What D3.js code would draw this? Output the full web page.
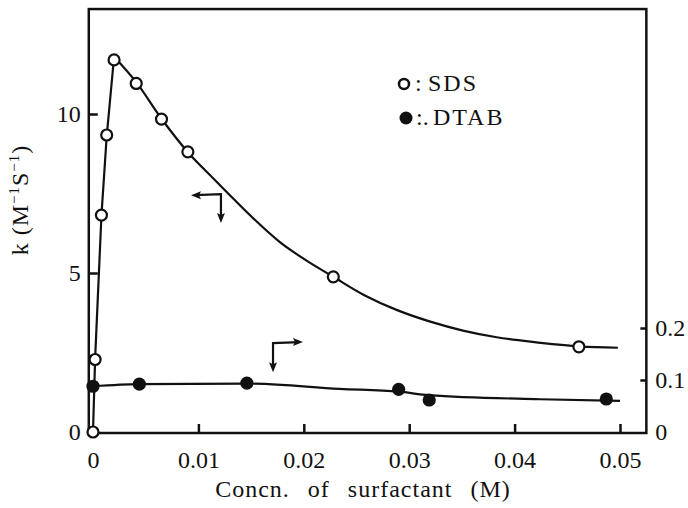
<!DOCTYPE html>
<html lang="en">
<head>
<meta charset="UTF-8">
<title>k vs surfactant concentration</title>
<script src="https://d3js.org/d3.v7.min.js"></script>
<style>
  body { margin: 0; background: #fff; }
  svg { display: block; }
  text { font-family: "Liberation Serif", "Times New Roman", serif; fill: #111; }
  .tick text { font-size: 24px; }
  .tick line { stroke: #111; stroke-width: 2.5; }
</style>
</head>
<body>
<svg width="688" height="508"></svg>
<script>
// SDS measured points (left axis, k in M^-1 s^-1)
var sdsConc = [0, 0.0002, 0.0008, 0.0013, 0.002, 0.0041, 0.0065, 0.009, 0.0228, 0.0461];
var sdsK    = [0, 2.28, 6.82, 9.34, 11.7, 10.96, 9.84, 8.81, 4.88, 2.68];
// DTAB measured points (right axis)
var dtabConc = [0, 0.0044, 0.0146, 0.029, 0.0319, 0.0487];
var dtabK    = [0.088, 0.092, 0.094, 0.082, 0.0615, 0.0635];
// drawn curves
var sdsCurveConc = [0, 0.0002, 0.0008, 0.0013, 0.002, 0.0041, 0.0065, 0.009, 0.0114, 0.0133, 0.0152, 0.0177, 0.0203, 0.0228, 0.0257, 0.0288, 0.032, 0.0351, 0.0383, 0.0415, 0.0461, 0.0498];
var sdsCurveK    = [0, 2.3, 6.8, 9.3, 11.8, 11.0, 9.85, 8.8, 7.98, 7.34, 6.72, 5.98, 5.38, 4.88, 4.31, 3.84, 3.47, 3.19, 2.98, 2.84, 2.69, 2.65];
var dtabCurveConc = [0, 0.0044, 0.0146, 0.0234, 0.029, 0.0319, 0.0424, 0.050];
var dtabCurveK    = [0.088, 0.092, 0.093, 0.083, 0.0775, 0.071, 0.063, 0.060];
// ticks
var xTicks = [0, 0.01, 0.02, 0.03, 0.04, 0.05];
var leftTicks = [0, 5, 10];
var rightTicks = [0, 0.1, 0.2];

var svg = d3.select("svg");

var x = d3.scaleLinear().domain([0, 0.05]).range([93, 620]);
var yL = d3.scaleLinear().domain([0, 10]).range([432, 114]);
var yR = d3.scaleLinear().domain([0, 0.2]).range([432, 328]);

var fx0 = x(-0.0004), fx1 = x(0.0525), fy0 = yL(13.3), fy1 = 433;

// frame
svg.append("rect")
    .attr("x", fx0).attr("y", fy0)
    .attr("width", fx1 - fx0).attr("height", fy1 - fy0)
    .attr("fill", "none").attr("stroke", "#111").attr("stroke-width", 2.5);

// axes, ticks pointing inward
var gx = svg.append("g")
    .attr("transform", "translate(0," + fy1 + ")")
    .call(d3.axisBottom(x).tickValues(xTicks).tickSizeInner(-9).tickSizeOuter(0)
        .tickPadding(18).tickFormat(function(d) { return String(d); }));
gx.select(".domain").remove();
gx.selectAll(".tick").filter(function(d) { return d === 0; }).select("line").remove();

var gl = svg.append("g")
    .attr("transform", "translate(" + fx0 + ",0)")
    .call(d3.axisLeft(yL).tickValues(leftTicks).tickSizeInner(-9).tickSizeOuter(0)
        .tickPadding(8));
gl.select(".domain").remove();
gl.selectAll(".tick").filter(function(d) { return d === 0; }).select("line").remove();

var gr = svg.append("g")
    .attr("transform", "translate(" + fx1 + ",0)")
    .call(d3.axisRight(yR).tickValues(rightTicks).tickSizeInner(-6).tickSizeOuter(0)
        .tickPadding(9).tickFormat(function(d) { return String(d); }));
gr.select(".domain").remove();
gr.selectAll(".tick").filter(function(d) { return d === 0; }).select("line").remove();

// axis titles
svg.append("text")
    .attr("x", 363).attr("y", 497)
    .attr("text-anchor", "middle")
    .attr("font-size", 24)
    .style("letter-spacing", "1px")
    .style("word-spacing", "11px")
    .text("Concn. of surfactant (M)");

var yt = svg.append("text")
    .attr("transform", "translate(28,200) rotate(-90)")
    .attr("text-anchor", "middle")
    .attr("font-size", 24)
    .style("letter-spacing", "1px");
yt.append("tspan").text("k (M");
yt.append("tspan").attr("font-size", 15).attr("dy", -9).text("\u22121");
yt.append("tspan").attr("dy", 9).text("S");
yt.append("tspan").attr("font-size", 15).attr("dy", -9).text("\u22121");
yt.append("tspan").attr("dy", 9).text(")");

// curves
var sdsCurve = sdsCurveConc.map(function(c, i) { return [c, sdsCurveK[i]]; });
var dtabCurve = dtabCurveConc.map(function(c, i) { return [c, dtabCurveK[i]]; });

var lineL = d3.line().x(function(d) { return x(d[0]); }).y(function(d) { return yL(d[1]); });
var lineR = d3.line().x(function(d) { return x(d[0]); }).y(function(d) { return yR(d[1]); })
    .curve(d3.curveMonotoneX);

var peak = 4;
svg.append("path")
    .attr("d", lineL.curve(d3.curveLinear)(sdsCurve.slice(0, peak + 1)))
    .attr("fill", "none").attr("stroke", "#111").attr("stroke-width", 2.2);
svg.append("path")
    .attr("d", lineL.curve(d3.curveCatmullRom.alpha(0.5))(sdsCurve.slice(peak)))
    .attr("fill", "none").attr("stroke", "#111").attr("stroke-width", 2.2);
svg.append("path")
    .attr("d", lineR(dtabCurve))
    .attr("fill", "none").attr("stroke", "#111").attr("stroke-width", 2.2);

// points
svg.selectAll(".sds").data(sdsConc).enter().append("circle")
    .attr("class", "sds")
    .attr("cx", function(d) { return x(d); })
    .attr("cy", function(d, i) { return yL(sdsK[i]); })
    .attr("r", 5.5)
    .attr("fill", "#fff").attr("stroke", "#111").attr("stroke-width", 2.2);

svg.selectAll(".dtab").data(dtabConc).enter().append("circle")
    .attr("class", "dtab")
    .attr("cx", function(d) { return x(d); })
    .attr("cy", function(d, i) { return yR(dtabK[i]); })
    .attr("r", 6.6)
    .attr("fill", "#111");

// arrows showing which axis each curve uses
function arrowHead(tx, ty, dx, dy) {
    var len = 10, w = 4;
    var bx = tx - dx * len, by = ty - dy * len;
    return "M" + tx + "," + ty + "L" + (bx - dy * w) + "," + (by + dx * w) +
        "L" + (bx + dx * 2) + "," + (by + dy * 2) + "L" + (bx + dy * w) + "," + (by - dx * w) + "Z";
}
var a1 = { cx: x(0.01214), cy: yL(7.48), hx: x(0.0093), vy: yL(6.57) };
svg.append("path")
    .attr("d", "M" + (a1.hx + 4) + "," + (a1.cy + 1) + "L" + a1.cx + "," + a1.cy + "L" + a1.cx + "," + (a1.vy - 4))
    .attr("fill", "none").attr("stroke", "#111").attr("stroke-width", 2.2);
svg.append("path").attr("d", arrowHead(a1.hx, a1.cy + 1, -1, 0)).attr("fill", "#111");
svg.append("path").attr("d", arrowHead(a1.cx, a1.vy, 0, 1)).attr("fill", "#111");

var a2 = { cx: x(0.01708), cy: yR(0.171), hx: x(0.01992), vy: yR(0.115) };
svg.append("path")
    .attr("d", "M" + (a2.hx - 4) + "," + (a2.cy - 1) + "L" + a2.cx + "," + a2.cy + "L" + a2.cx + "," + (a2.vy - 4))
    .attr("fill", "none").attr("stroke", "#111").attr("stroke-width", 2.2);
svg.append("path").attr("d", arrowHead(a2.hx, a2.cy - 1, 1, 0)).attr("fill", "#111");
svg.append("path").attr("d", arrowHead(a2.cx, a2.vy, 0, 1)).attr("fill", "#111");

// legend
var legend = svg.append("g").attr("transform", "translate(404,84)");
legend.append("circle").attr("cx", 0).attr("cy", 0).attr("r", 5)
    .attr("fill", "#fff").attr("stroke", "#111").attr("stroke-width", 2.5);
legend.append("text").attr("x", 11).attr("y", 7).attr("font-size", 24).text(":");
legend.append("text").attr("x", 24).attr("y", 7).attr("font-size", 24)
    .style("letter-spacing", "2px").text("SDS");
legend.append("circle").attr("cx", 2).attr("cy", 34).attr("r", 6.5).attr("fill", "#111");
legend.append("text").attr("x", 12).attr("y", 41).attr("font-size", 24).text(":.");
legend.append("text").attr("x", 29).attr("y", 41).attr("font-size", 24)
    .style("letter-spacing", "2px").text("DTAB");
</script>
</body>
</html>
